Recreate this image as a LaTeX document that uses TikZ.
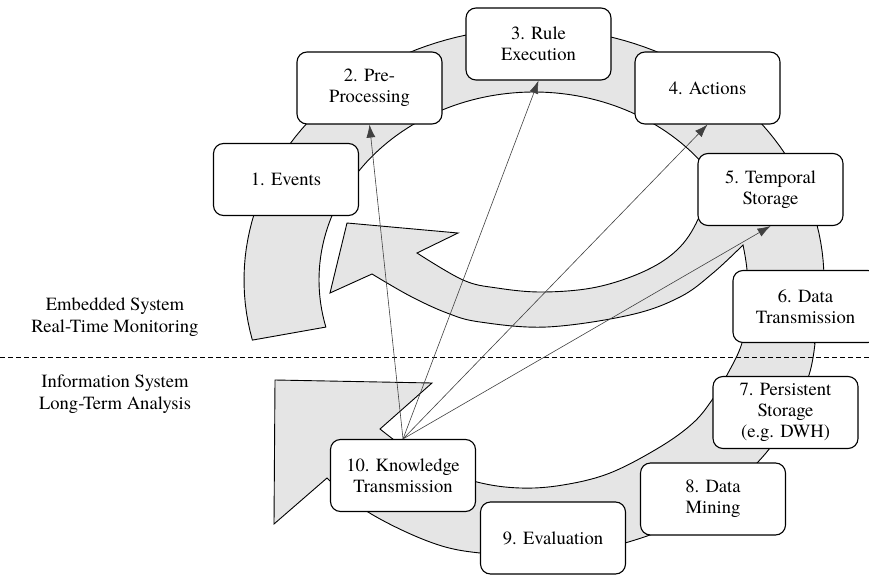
\documentclass[tikz,border=0pt]{standalone}
\usepackage{fontspec}
\setmainfont{TeX Gyre Termes}
\usetikzlibrary{arrows.meta}
\begin{document}
\begin{tikzpicture}[x=1pt,y=-1pt,
  stepbox/.style={draw=black, line width=1.1pt, fill=white, rounded corners=10pt,
    minimum width=145pt, minimum height=72pt, align=center, inner sep=0pt,
    font=\fontsize{18.6}{21}\selectfont},
  band/.style={fill=black!10, draw=black, line width=0.9pt, line join=miter},
  link/.style={draw=black!75, line width=0.6pt, -{Latex[length=13pt,width=9pt]}},
  lbl/.style={align=center, inner sep=0pt, font=\fontsize{18.6}{21.5}\selectfont},
  sep/.style={draw=black, line width=0.9pt, dash pattern=on 5pt off 3pt}
]
\useasboundingbox (0,0) rectangle (869,577);
\clip (0,0) rectangle (869,577);

% gray spiral band
\path[band]
  plot[domain=193.8:-14.5,samples=100,variable=\t] ({534+290*cos(\t)},{280-252*sin(\t)})
  -- plot[smooth,tension=0.6] coordinates {(815,343) (809,375) (790,418) (757,463) (700,512) (625,543) (550,555) (480,553) (430,542) (368,512) (327,478)}
  -- (274,524) -- (275,380) -- (432,383) -- (380,429)
  -- plot[smooth,tension=0.6] coordinates {(380,429) (430,465) (477,482) (520,488) (563,485) (610,473) (660,447) (693,423) (712,400) (727,375) (742,343) (748,305) (747,270) (743,245)}
  -- plot[smooth,tension=0.6] coordinates {(743,245) (713,273) (680,297) (630,315) (547,327) (480,322) (447,313) (410,296) (372,274)}
  -- (330,293) -- (347,223) -- (458,233) -- (417,253)
  -- plot[smooth,tension=0.6] coordinates {(417,253) (463,280) (497,288) (543,292) (597,287) (647,270) (680,247) (700,215) (712,175)}
  -- plot[domain=34:194.5,samples=100,variable=\t] ({534+215*cos(\t)},{280-188*sin(\t)})
  -- cycle;

% separator
\coordinate (sl) at (0,357);
\coordinate (sr) at (869,357);
\draw[sep] (sl) -- (sr);

% side labels
\node[lbl] (emb) at (115,317) {Embedded System\\Real-Time Monitoring};
\node[lbl] (inf) at (115,394) {Information System\\Long-Term Analysis};

% boxes
\node[stepbox] (ev)   at (286,179.5)   {1. Events};
\node[stepbox] (pre)  at (369.5,88)    {2. Pre-\\Processing};
\node[stepbox] (rule) at (538.5,44)    {3. Rule\\Execution};
\node[stepbox] (act)  at (707.5,88)    {4. Actions};
\node[stepbox] (temp) at (770.5,189.5) {5. Temporal\\Storage};
\node[stepbox] (dt)   at (805.5,306.5) {6. Data\\Transmission};
\node[stepbox] (ps)   at (785.5,412.5) {7. Persistent\\Storage\\(e.g. DWH)};
\node[stepbox] (dm)   at (713,499)     {8. Data\\Mining};
\node[stepbox] (eva)  at (553,538)     {9. Evaluation};
\node[stepbox] (kt)   at (403,475.5)   {10. Knowledge\\Transmission};

% connectors
\draw[link] (kt.north) -- (pre.south);
\draw[link] (kt.north) -- (rule.south);
\draw[link] (kt.north) -- (act.south);
\draw[link] (kt.north) -- (temp.south);
\end{tikzpicture}
\end{document}
